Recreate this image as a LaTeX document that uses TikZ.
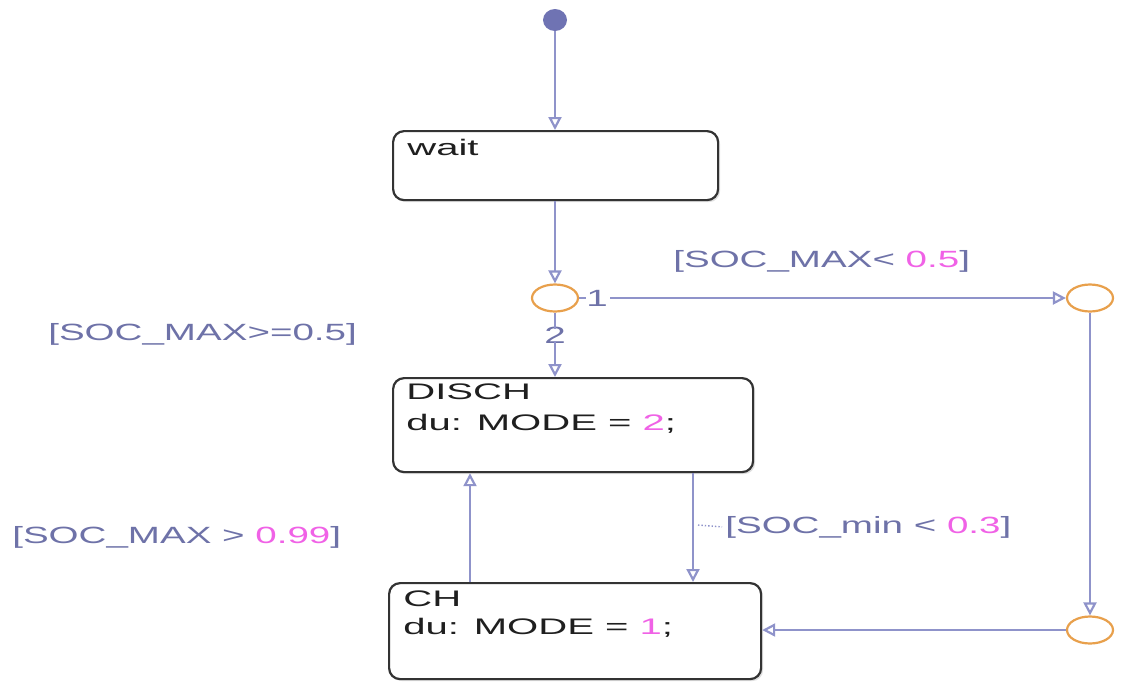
\documentclass[tikz,border=0pt]{standalone}
\usepackage{fontspec}
\setmainfont{Liberation Sans}
\usetikzlibrary{arrows.meta,shadows,shapes.geometric}
\definecolor{lineblue}{HTML}{8F93CA}
\definecolor{labelblue}{HTML}{6E72A8}
\definecolor{numpink}{HTML}{F062E6}
\definecolor{junc}{HTML}{E8A04C}
\definecolor{dotblue}{HTML}{6F73B3}
\definecolor{boxedge}{HTML}{333333}
\begin{document}
\begin{tikzpicture}[x=1pt,y=-1pt,
  statebox/.style={draw=boxedge, line width=2.2pt, rounded corners=11pt, fill=white,
    anchor=north west, inner sep=0pt,
    drop shadow={shadow xshift=2pt,shadow yshift=-2pt,opacity=0.25}},
  txt/.style={anchor=base west, inner sep=0pt, font=\fontsize{22.5}{27}\selectfont,
    xscale=1.78, text=black!88},
  lbl/.style={anchor=base west, inner sep=0pt, font=\fontsize{23.5}{28}\selectfont,
    xscale=1.64, text=labelblue},
  num/.style={inner sep=0pt, font=\fontsize{23.5}{28}\selectfont, xscale=1.64, text=labelblue},
  trans/.style={draw=lineblue, line width=2.2pt, -{Triangle[open,length=13pt,width=13pt]}},
  plain/.style={draw=lineblue, line width=2.2pt},
  junction/.style={ellipse, draw=junc, line width=2.2pt, minimum width=46pt,
    minimum height=27pt, inner sep=0pt, fill=white}
]
\useasboundingbox (0,0) rectangle (1130,689);

% initial dot
\node[ellipse, fill=dotblue, minimum width=24pt, minimum height=22pt, inner sep=0pt] (dot) at (555,20) {};

% states
\node[statebox, minimum width=325pt, minimum height=69pt] (wait) at (392,130) {};
\node[txt] (waittxt) at (407,155) {wait};

\node[statebox, minimum width=360pt, minimum height=94pt] (disch) at (392,377) {};
\node[txt] (dischtxt) at (406,399) {DISCH};
\node[txt] (dischdu) at (406,430) {du: MODE = \textcolor{numpink}{2};};

\node[statebox, minimum width=372pt, minimum height=96pt] (ch) at (388,582) {};
\node[txt] (chtxt) at (403,606) {CH};
\node[txt] (chdu) at (403,634) {du: MODE = \textcolor{numpink}{1};};

% junctions
\node[junction] (j1) at (555,298) {};
\node[junction] (j2) at (1090,298) {};
\node[junction] (j3) at (1090,630) {};

% helper coordinates
\coordinate (xup) at (470,520);
\coordinate (xdn) at (693,520);
\coordinate (lead) at (698,525);

% numbers on branches
\node[num] (n1) at (597,298) {1};
\node[num] (n2) at (555,335) {2};

% transitions
\draw[trans] (dot) -- (dot |- wait.north);
\draw[trans] (wait.south -| j1) -- (j1.north);
\draw[plain] (j1.east) -- (n1.west);
\draw[trans] ([xshift=2pt]n1.east) -- (j2.west);
\draw[plain] (j1.south) -- ([yshift=-2pt]n2.north);
\draw[trans] ([yshift=2pt]n2.south) -- (n2 |- disch.north);
\draw[trans] (j2.south) -- (j3.north);
\draw[trans] (j3.west) -- (ch.east |- j3);
\draw[trans] (disch.south -| xdn) -- (ch.north -| xdn);
\draw[trans] (ch.north -| xup) -- (disch.south -| xup);

% guard labels
\node[lbl] (g1) at (673,267) {[SOC\_MAX< \textcolor{numpink}{0.5}]};
\node[lbl] (g2) at (48,340) {[SOC\_MAX>=0.5]};
\node[lbl] (g3) at (12,543) {[SOC\_MAX > \textcolor{numpink}{0.99}]};
\node[lbl] (g4) at (725,533) {[SOC\_min < \textcolor{numpink}{0.3}]};
\draw[draw=lineblue, line width=1.4pt, dotted] (lead) -- ([xshift=-3pt]g4.west);
\end{tikzpicture}
\end{document}
